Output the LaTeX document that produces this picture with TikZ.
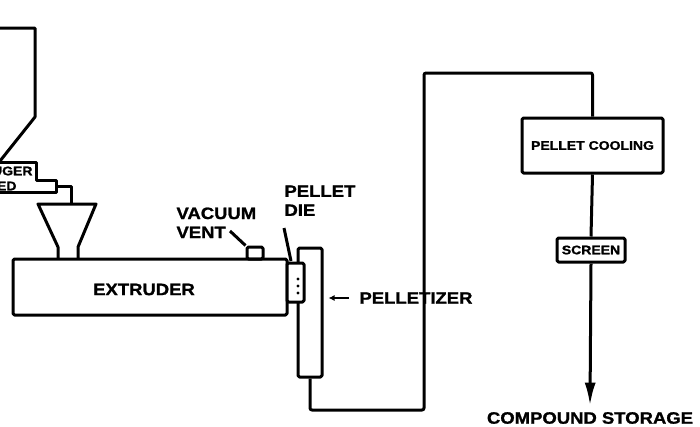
\documentclass[tikz,border=0pt]{standalone}
\usepackage{fontspec}
\newfontfamily\lblfont[FakeStretch=1.12, BoldFeatures={FakeBold=1.2}]{Liberation Sans}
\usetikzlibrary{arrows.meta}

\tikzset{
  unit/.style={draw, line width=3pt, rounded corners=1.5pt, inner sep=0pt},
  biglbl/.style={font=\lblfont\bfseries\fontsize{16.5}{19}\selectfont, inner sep=0pt},
  smalllbl/.style={font=\lblfont\bfseries\fontsize{12.5}{14}\selectfont},
}

\begin{document}
\begin{tikzpicture}[x=1pt, y=-1pt, line width=3pt, line join=round]
        % Page frame
        \useasboundingbox (0,0) rectangle (700,426);
        \fill[white] (0,0) rectangle (700,426);
        \clip (0,0) rectangle (700,426);

        % Hopper and auger feed (cut off at the left)
        \draw (-10,28) -- (35,28) -- (35,117) -- (0,161);
        \draw (-10,162) -- (36,162) -- (36,180) -- (56,180) -- (56,192) -- (-10,192);
        \node[smalllbl, inner sep=0pt, anchor=east] (auger) at (34,171) {AUGER};
        \node[smalllbl, inner sep=0pt, anchor=east] (feed) at (18,186) {FEED};

        % Feed pipe and funnel
        \draw (56,186) -| (71,204);
        \draw (58,259) -- (58,247) -- (38,204) -- (96,204) -- (78,247) -- (78,259);

        % Extruder with vent and die
        \node[unit, minimum width=274pt, minimum height=56pt] (extruder) at (150,287) {};
        \node[biglbl] (extlbl) at (144,289.5) {EXTRUDER};
        \node[unit, minimum width=16pt, minimum height=12pt] (vent) at (255,253) {};
        \node[unit, minimum width=24pt, minimum height=129pt] (pelletizer) at (310,312.5) {};
        \node[unit, fill=white, minimum width=17pt, minimum height=39pt] (die) at (295.5,282.5) {};
        \foreach \y in {279,286,293}
            \fill (298,\y) circle (1.7pt);

        % Labels with leaders
        \node[biglbl, align=left, anchor=north west] (ventlbl) at (175,206) {VACUUM\\VENT};
        \coordinate (ventend) at (230,231);
        \draw (ventend) -- (vent.north west);
        \node[biglbl, align=left, anchor=north west] (dielbl) at (283,184) {PELLET\\DIE};
        \coordinate (dieend) at (284,228);
        \coordinate (dietip) at (291,261);
        \draw (dieend) -- (dietip);
        \node[biglbl, anchor=west] (pellbl) at (358,298) {PELLETIZER};
        \coordinate (pelhit) at (pellbl.west -| pelletizer.east);
        \draw[line width=2.2pt, -{Latex[length=6pt,width=6pt]}] ([xshift=-9pt]pellbl.west) -- ([xshift=5pt]pelhit);

        % Pellet transport, cooling and screening
        \node[unit, smalllbl, minimum width=141pt, minimum height=55pt] (cooling) at (592.5,145.5) {PELLET COOLING};
        \node[unit, smalllbl, minimum width=68pt, minimum height=24pt] (screen) at (591,250) {SCREEN};
        \draw[rounded corners=2pt] (pelletizer.south) |- (424,410) -- (424,73) -| (cooling.north);
        \draw (cooling.south) -- (screen.north);
        \node[biglbl] (storage) at (590,418) {COMPOUND STORAGE};
        \draw[-{Latex[length=23pt,width=11pt]}] (screen.south) -- ([yshift=5pt]storage.north);
    \end{tikzpicture}
\end{document}
